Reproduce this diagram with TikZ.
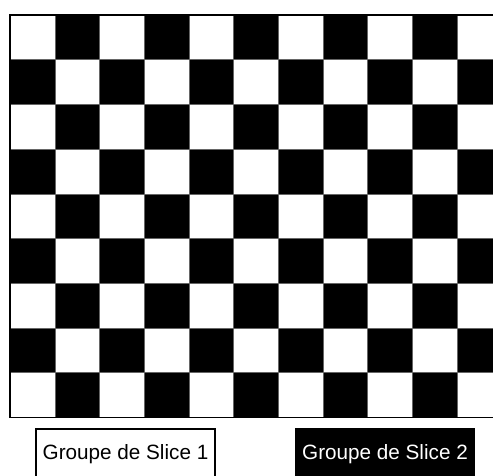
\documentclass[tikz,border=0pt]{standalone}
\usepackage{fontspec}
\setmainfont{Liberation Sans}

\begin{document}
\begin{tikzpicture}[
  x=1pt, y=-1pt,
  cell/.style={draw=black!60, line width=0.4pt},
  light/.style={cell, fill=white},
  dark/.style={cell, fill=black},
  group/.style={
    draw=black, line width=1.2pt, align=center,
    minimum width=179pt, minimum height=50pt, inner sep=0pt,
    font=\fontsize{20.7}{24}\selectfont
  },
]
\clip (0,0) rectangle (493,476);
\fill[white] (0,0) rectangle (493,476);

% Board: 9 rows x 11 columns, the last column cut by the page edge
\foreach \r in {0,...,8} {
  \foreach \c in {0,...,10} {
    \pgfmathparse{int(mod(\r+\c,2))}
    \ifnum\pgfmathresult=1
      \path[dark] (10+\c*44.7, 15+\r*44.7) rectangle +(44.7,44.7);
    \else
      \path[light] (10+\c*44.7, 15+\r*44.7) rectangle +(44.7,44.7);
    \fi
  }
}
\draw[line width=1.6pt] (10,15) rectangle (10+11*44.7, 15+9*44.7);

% Legend
\node[group]                         (slice1) at (125.5,454) {Groupe de Slice 1};
\node[group, fill=black, text=white] (slice2) at (385,454)   {Groupe de Slice 2};
\end{tikzpicture}
\end{document}
